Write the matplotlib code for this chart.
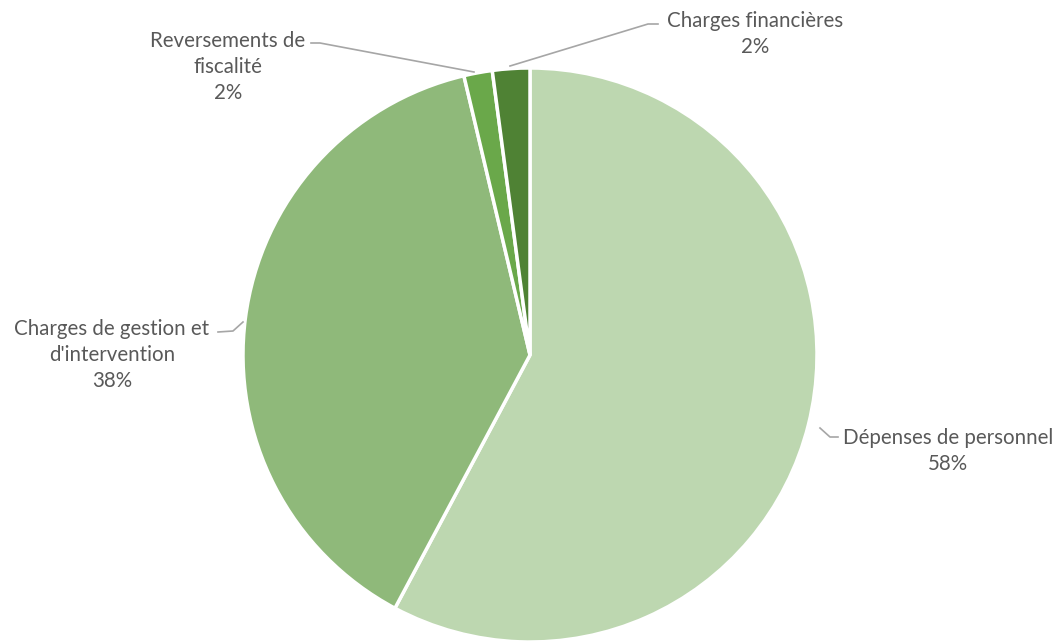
import matplotlib.pyplot as plt

labels = ["Dépenses de personnel", "Charges de gestion et\nd'intervention",
          "Reversements de\nfiscalité", "Charges financières"]
values = [57.8, 38.5, 1.6, 2.1]
pct_labels = ["58%", "38%", "2%", "2%"]
colors = ["#bdd7b0", "#8fb97a", "#6aa84a", "#4f8234"]

H = 644
fig = plt.figure(figsize=(10.62, 6.44), dpi=100)
ax = fig.add_axes([0, 0, 1, 1])

wedges, _ = ax.pie(values, colors=colors, startangle=90, counterclock=False,
                   center=(530, H - 355), radius=287, frame=True,
                   wedgeprops=dict(edgecolor="white", linewidth=2.5))
ax.set_xlim(0, 1062)
ax.set_ylim(0, H)
ax.set_aspect("equal")
ax.axis("off")

# label text positions (centre of text block), leader line points
txt_pos = [(948, H - 451), (112, H - 355), (228, H - 67), (755, H - 34)]
leaders = [
    [(820, H - 428), (830, H - 437), (838, H - 437)],
    [(243, H - 322), (233, H - 331), (218, H - 332)],
    [(474, H - 72), (320, H - 43), (311, H - 43)],
    [(510, H - 66), (648, H - 24), (658, H - 24)],
]

for lab, pct, (tx, ty), pts in zip(labels, pct_labels, txt_pos, leaders):
    ax.text(tx, ty, lab + "\n" + pct, ha="center", va="center",
            fontsize=14.8, color="#595959", family="Lato", linespacing=1.4)
    xs = [p[0] for p in pts]
    ys = [p[1] for p in pts]
    ax.plot(xs, ys, color="#a6a6a6", linewidth=1.2)

fig.savefig("out.png", dpi=100)
